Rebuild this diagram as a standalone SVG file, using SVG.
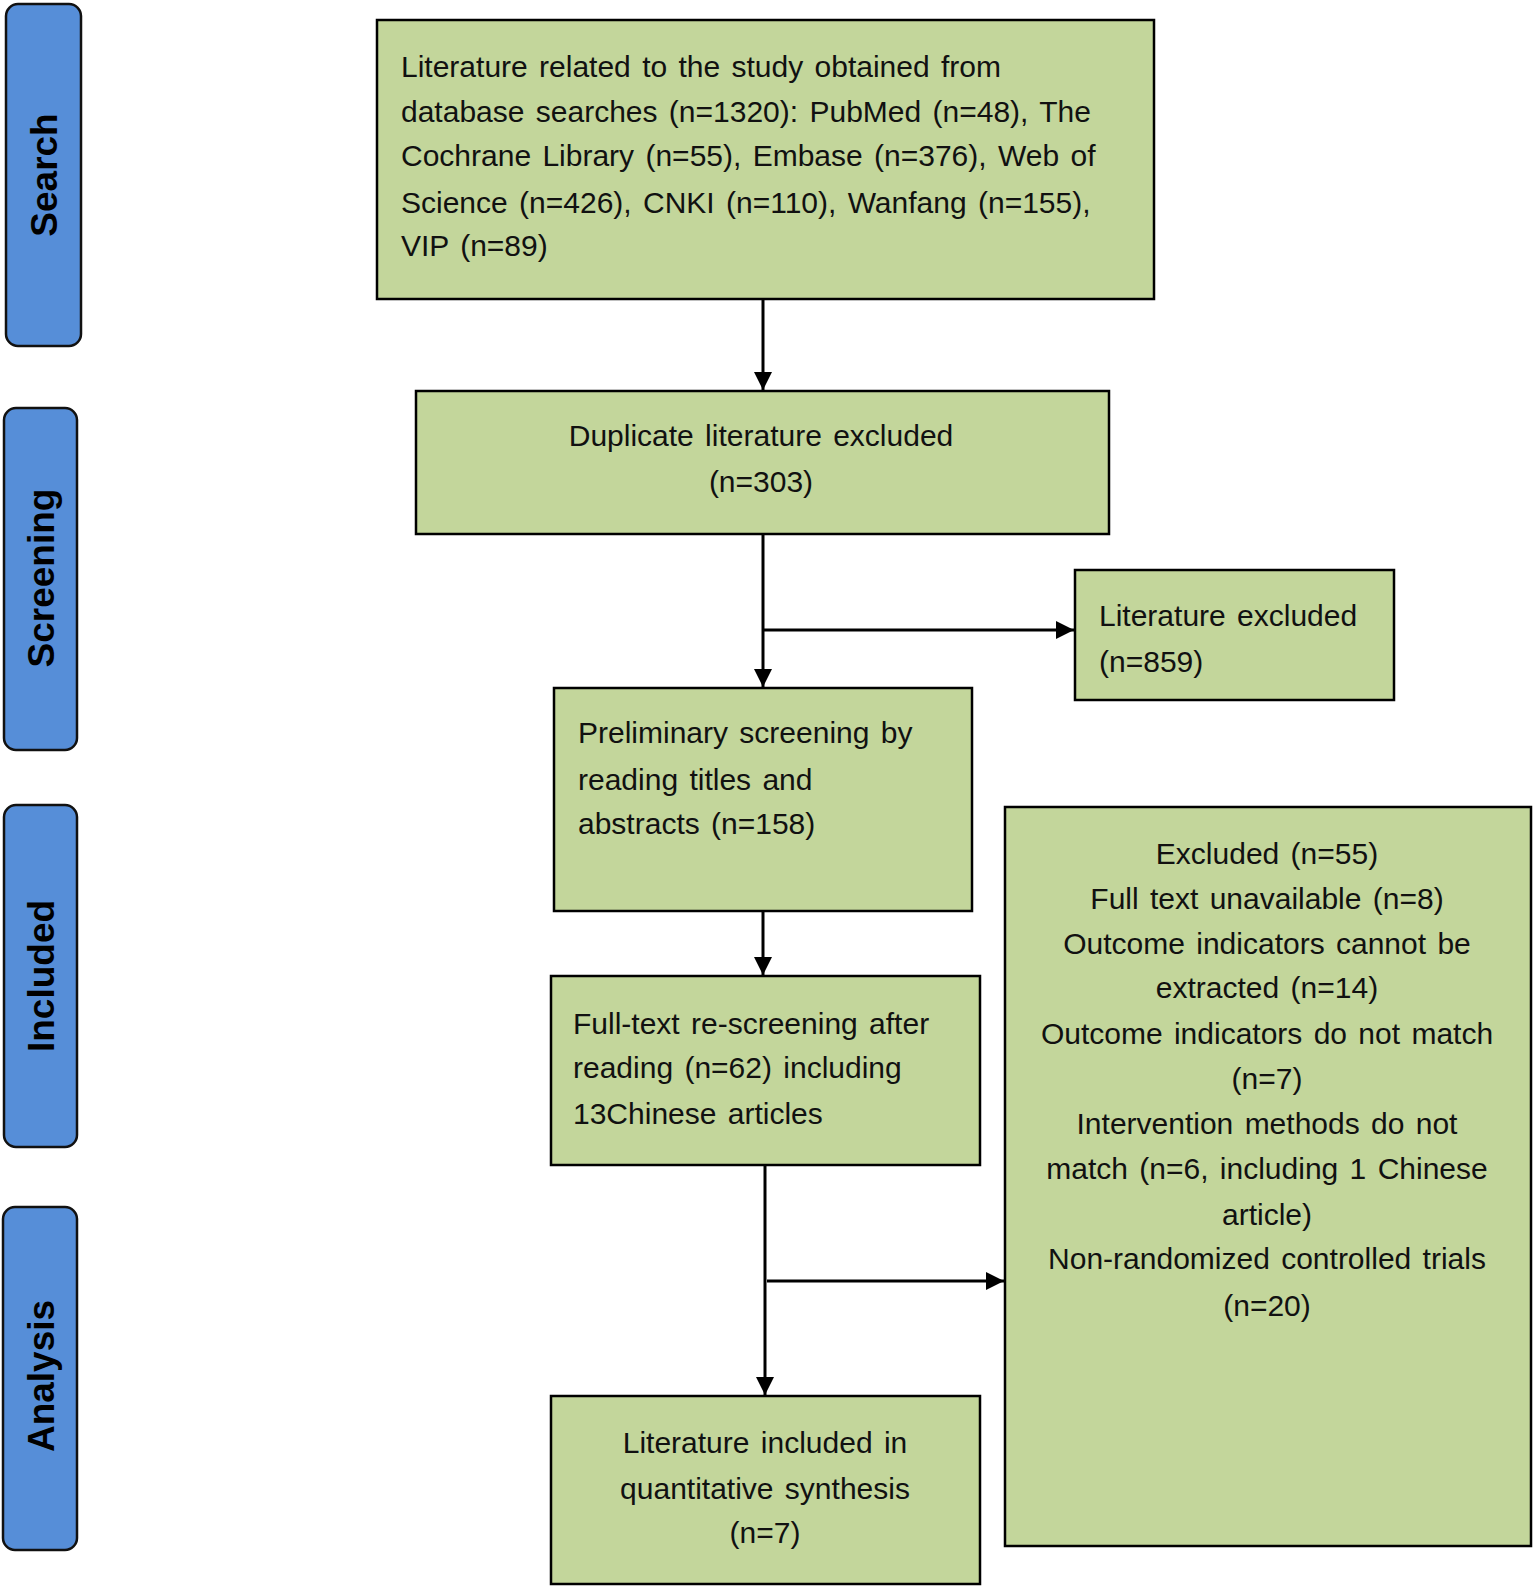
<svg xmlns="http://www.w3.org/2000/svg" width="1535" height="1589" viewBox="0 0 1535 1589">
<defs>
<style>
.stage{fill:#568ed8;stroke:#111;stroke-width:2.5}
.stxt{font-family:"Liberation Sans",Arial,sans-serif;font-weight:bold;font-size:37px;fill:#000;text-anchor:middle;dominant-baseline:central}
.box{fill:#c3d69b;stroke:#000;stroke-width:2.5}
.t{font-family:"Liberation Sans",Arial,sans-serif;font-size:30px;fill:#111;word-spacing:3px}
.c{text-anchor:middle}
.ln{stroke:#000;stroke-width:3;fill:none}
</style>
<marker id="ah" viewBox="0 0 10 10" refX="10" refY="5" markerWidth="6" markerHeight="6" markerUnits="strokeWidth" orient="auto">
<path d="M0,0 L10,5 L0,10 Z" fill="#000"/>
</marker>
</defs>
<rect width="1535" height="1589" fill="#fff"/>

<g id="stage-search">
<rect class="stage" x="6" y="4" width="75" height="342" rx="12"/>
<text class="stxt" transform="translate(44,175) rotate(-90)">Search</text>
</g>
<g id="stage-screening">
<rect class="stage" x="4" y="408" width="73" height="342" rx="12"/>
<text class="stxt" transform="translate(41,578) rotate(-90)">Screening</text>
</g>
<g id="stage-included">
<rect class="stage" x="4" y="805" width="73" height="342" rx="12"/>
<text class="stxt" transform="translate(41,976) rotate(-90)">Included</text>
</g>
<g id="stage-analysis">
<rect class="stage" x="3" y="1207" width="74" height="343" rx="12"/>
<text class="stxt" transform="translate(41,1376) rotate(-90)">Analysis</text>
</g>

<g id="connectors">
<line class="ln" x1="763" y1="299" x2="763" y2="390" marker-end="url(#ah)"/>
<line class="ln" x1="763" y1="534" x2="763" y2="687" marker-end="url(#ah)"/>
<line class="ln" x1="763" y1="630" x2="1074" y2="630" marker-end="url(#ah)"/>
<line class="ln" x1="763" y1="911" x2="763" y2="975" marker-end="url(#ah)"/>
<line class="ln" x1="765" y1="1165" x2="765" y2="1395" marker-end="url(#ah)"/>
<line class="ln" x1="767" y1="1281" x2="1004" y2="1281" marker-end="url(#ah)"/>
</g>

<g id="node-search">
<rect class="box" x="377" y="20" width="777" height="279"/>
<text class="t" x="401" y="77">Literature related to the study obtained from</text>
<text class="t" x="401" y="122">database searches (n=1320): PubMed (n=48), The</text>
<text class="t" x="401" y="166">Cochrane Library (n=55), Embase (n=376), Web of</text>
<text class="t" x="401" y="213">Science (n=426), CNKI (n=110), Wanfang (n=155),</text>
<text class="t" x="401" y="256">VIP (n=89)</text>
</g>

<g id="node-duplicate">
<rect class="box" x="416" y="391" width="693" height="143"/>
<text class="t c" x="761" y="446">Duplicate literature excluded</text>
<text class="t c" x="761" y="492">(n=303)</text>
</g>

<g id="node-lit-excluded">
<rect class="box" x="1075" y="570" width="319" height="130"/>
<text class="t" x="1099" y="626">Literature excluded</text>
<text class="t" x="1099" y="672">(n=859)</text>
</g>

<g id="node-preliminary">
<rect class="box" x="554" y="688" width="418" height="223"/>
<text class="t" x="578" y="743">Preliminary screening by</text>
<text class="t" x="578" y="790">reading titles and</text>
<text class="t" x="578" y="834">abstracts (n=158)</text>
</g>

<g id="node-fulltext">
<rect class="box" x="551" y="976" width="429" height="189"/>
<text class="t" x="573" y="1034">Full-text re-screening after</text>
<text class="t" x="573" y="1078">reading (n=62) including</text>
<text class="t" x="573" y="1124">13Chinese articles</text>
</g>

<g id="node-excluded">
<rect class="box" x="1005" y="807" width="526" height="739"/>
<text class="t c" x="1267" y="864">Excluded (n=55)</text>
<text class="t c" x="1267" y="909">Full text unavailable (n=8)</text>
<text class="t c" x="1267" y="954">Outcome indicators cannot be</text>
<text class="t c" x="1267" y="998">extracted (n=14)</text>
<text class="t c" x="1267" y="1044">Outcome indicators do not match</text>
<text class="t c" x="1267" y="1089">(n=7)</text>
<text class="t c" x="1267" y="1134">Intervention methods do not</text>
<text class="t c" x="1267" y="1179">match (n=6, including 1 Chinese</text>
<text class="t c" x="1267" y="1225">article)</text>
<text class="t c" x="1267" y="1269">Non-randomized controlled trials</text>
<text class="t c" x="1267" y="1316">(n=20)</text>
</g>

<g id="node-included">
<rect class="box" x="551" y="1396" width="429" height="188"/>
<text class="t c" x="765" y="1453">Literature included in</text>
<text class="t c" x="765" y="1499">quantitative synthesis</text>
<text class="t c" x="765" y="1543">(n=7)</text>
</g>
</svg>
